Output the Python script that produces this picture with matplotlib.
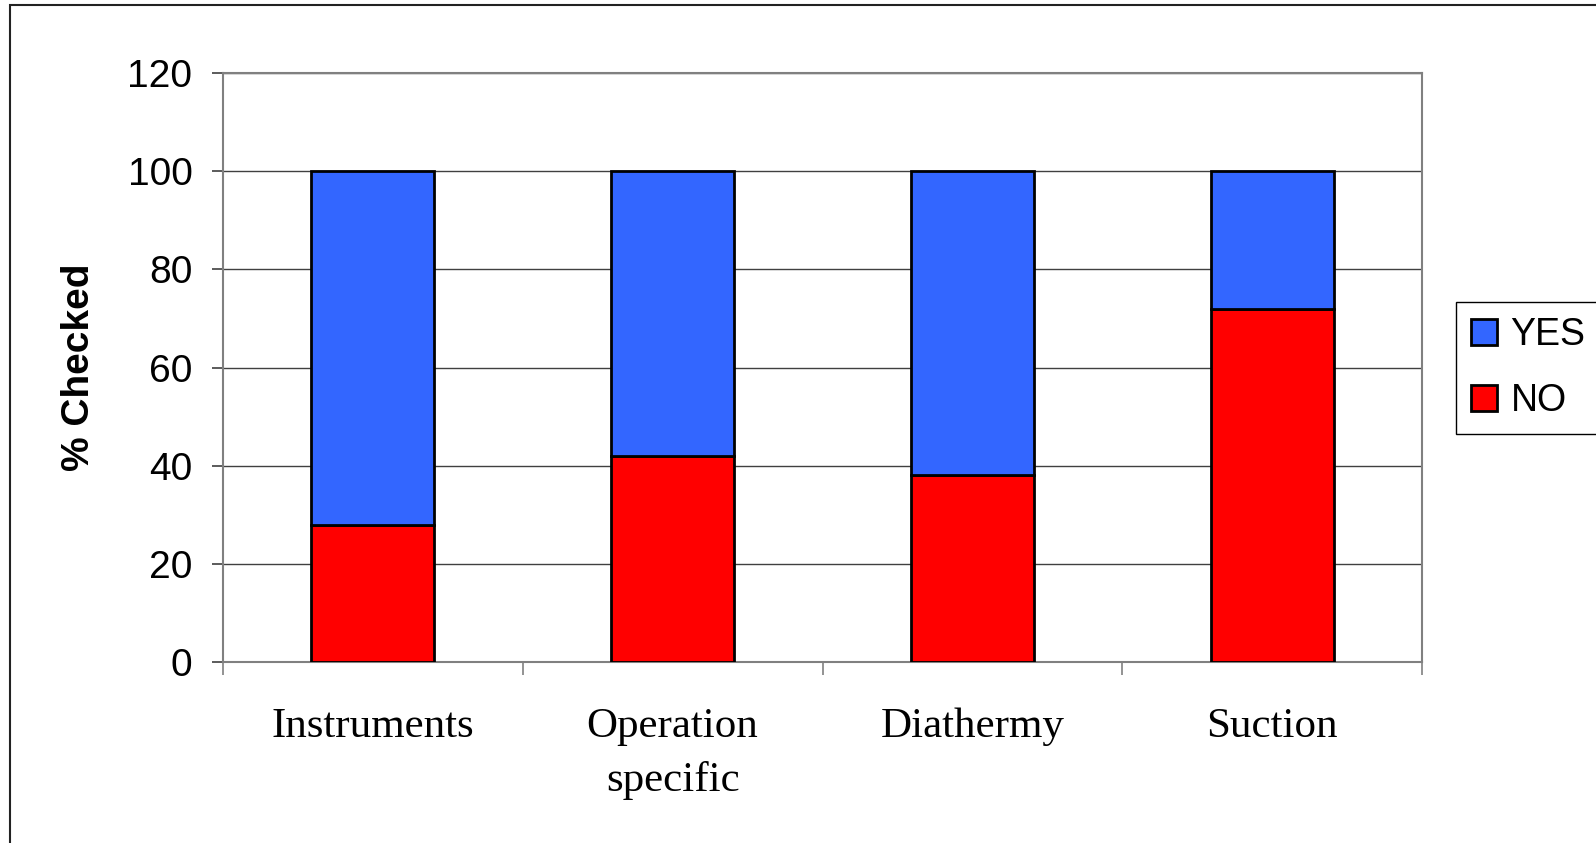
import numpy as np
import matplotlib.pyplot as plt
from matplotlib.patches import Rectangle

categories = ["Instruments", "Operation\nspecific", "Diathermy", "Suction"]
no_pct = [28, 42, 38, 72]
yes_pct = [72, 58, 62, 28]

blue = "#3366FF"
red = "#FF0000"
grid_grey = "#808080"

fig = plt.figure(figsize=(15.96, 8.43), dpi=100)
ax = fig.add_axes([223 / 1596, 1 - 662 / 843, (1422 - 223) / 1596, (662 - 73) / 843])

x = np.arange(len(categories))
width = 0.41
ax.bar(x, no_pct, width, color=red, edgecolor="black", linewidth=2.0, label="NO", zorder=3)
ax.bar(x, yes_pct, width, bottom=no_pct, color=blue, edgecolor="black", linewidth=2.0,
       label="YES", zorder=3)

ax.set_xlim(-0.5, len(categories) - 0.5)
ax.set_ylim(0, 120)
ax.set_yticks(np.arange(0, 121, 20))
ax.yaxis.grid(True, color="#404040", linewidth=1.0, zorder=0)
ax.set_axisbelow(True)

for s in ax.spines.values():
    s.set_color(grid_grey)
    s.set_linewidth(1.5)

# category labels on major ticks, separators on minor ticks
ax.set_xticks(x)
ax.set_xticklabels(categories, fontfamily="Liberation Serif", fontsize=31, linespacing=1.5,
                   va="top")
ax.set_xticks(np.arange(-0.5, len(categories)), minor=True)
ax.tick_params(axis="x", which="major", length=0, pad=33)
ax.tick_params(axis="x", which="minor", length=9, width=1.2, color=grid_grey, direction="out")
ax.tick_params(axis="y", length=8, width=1.2, color="#404040", pad=14, labelsize=28)
for lab in ax.get_yticklabels():
    lab.set_fontfamily("Liberation Sans")

ax.set_ylabel("% Checked", fontfamily="Liberation Sans", fontweight="bold", fontsize=28,
              labelpad=22)

handles, labels = ax.get_legend_handles_labels()
leg = fig.legend(handles[::-1], labels[::-1], loc="upper left",
                 bbox_to_anchor=(1456 / 1596, 1 - 302 / 843),
                 prop={"family": "Liberation Sans", "size": 27},
                 frameon=True, fancybox=False, edgecolor="black", framealpha=1,
                 handlelength=0.7, handleheight=0.7, handletextpad=0.35,
                 labelspacing=0.8, borderpad=0.4, borderaxespad=0)
leg.get_frame().set_linewidth(1.0)

# outer chart frame, running off the right and bottom edges
fig.patches.append(Rectangle((10 / 1596, -0.05), 1.2, 1 - 5 / 843 + 0.05,
                             transform=fig.transFigure, fill=False,
                             edgecolor="#222222", linewidth=1.5))

fig.savefig("out.png", dpi=100)
